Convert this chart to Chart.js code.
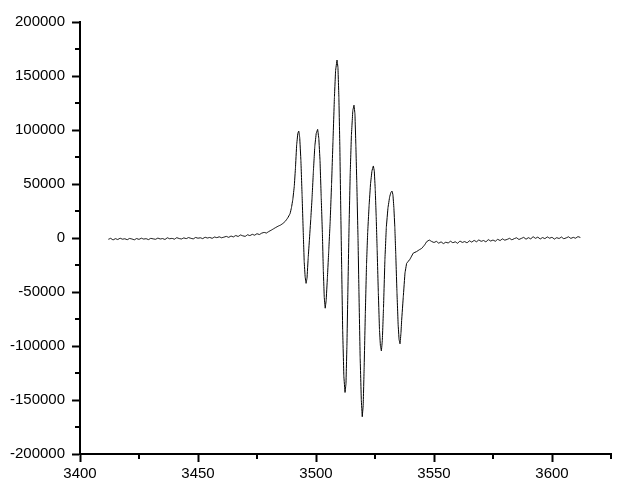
<!DOCTYPE html>
<html>
<head>
<meta charset="utf-8">
<script src="https://cdn.jsdelivr.net/npm/chart.js@4.4.1/dist/chart.umd.min.js"></script>
<style>
  body { margin: 0; background: #fff; }
  #wrap { width: 643px; height: 490px; }
</style>
</head>
<body>
<div id="wrap"><canvas id="spectrum" width="643" height="490"></canvas></div>
<script>
// magnetic field (G) and signal
var field = [
  3412, 3413, 3414, 3415, 3416, 3417, 3418, 3419, 3420, 3421,
  3422, 3423, 3424, 3425, 3426, 3427, 3428, 3429, 3430, 3431,
  3432, 3433, 3434, 3435, 3436, 3437, 3438, 3439, 3440, 3441,
  3442, 3443, 3444, 3445, 3446, 3447, 3448, 3449, 3450, 3451,
  3452, 3453, 3454, 3455, 3456, 3457, 3458, 3459, 3460, 3461,
  3462, 3463, 3464, 3465, 3466, 3467, 3468, 3469, 3470, 3471,
  3472, 3473, 3474, 3475, 3476, 3477, 3478, 3479, 3480, 3481,
  3482, 3483, 3484, 3485, 3486, 3487, 3488, 3489, 3489.6, 3490.2,
  3490.8, 3491.3, 3491.8, 3492.3, 3492.7, 3493.1, 3493.6, 3494.1, 3494.6, 3495.0,
  3495.4, 3495.8, 3496.2, 3496.7, 3497.2, 3497.8, 3498.3, 3498.9, 3499.5, 3500.1,
  3500.7, 3501.2, 3501.7, 3502.2, 3502.7, 3503.1, 3503.5, 3503.9, 3504.3, 3504.8,
  3505.4, 3506.0, 3506.6, 3507.2, 3507.8, 3508.3, 3508.9, 3509.3, 3509.7, 3510.1,
  3510.5, 3510.9, 3511.3, 3511.8, 3512.3, 3512.7, 3513.1, 3513.5, 3514.0, 3514.5,
  3515.0, 3515.6, 3516.1, 3516.5, 3516.9, 3517.3, 3517.8, 3518.2, 3518.7, 3519.2,
  3519.6, 3520.0, 3520.4, 3520.9, 3521.4, 3521.9, 3522.5, 3523.1, 3523.7, 3524.3,
  3524.7, 3525.1, 3525.5, 3525.9, 3526.4, 3526.9, 3527.3, 3527.7, 3528.1, 3528.6,
  3529.2, 3529.8, 3530.5, 3531.2, 3531.7, 3532.2, 3532.6, 3533.0, 3533.4, 3533.8,
  3534.3, 3534.8, 3535.2, 3535.6, 3536.0, 3536.3, 3537.0, 3537.7, 3538.4, 3539.8,
  3541.2, 3542.6, 3543.7, 3544.8, 3546.0, 3546.9, 3548.0, 3549.0, 3550, 3551,
  3552, 3553, 3554, 3555, 3556, 3557, 3558, 3559, 3560, 3561,
  3562, 3563, 3564, 3565, 3566, 3567, 3568, 3569, 3570, 3571,
  3572, 3573, 3574, 3575, 3576, 3577, 3578, 3579, 3580, 3581,
  3582, 3583, 3584, 3585, 3586, 3587, 3588, 3589, 3590, 3591,
  3592, 3593, 3594, 3595, 3596, 3597, 3598, 3599, 3600, 3601,
  3602, 3603, 3604, 3605, 3606, 3607, 3608, 3609, 3610, 3611,
  3612
];
var signal = [
  -1200, -300, -1800, -600, -1400, -200, -1100, -700, -1600, -400,
  -900, -1700, -500, -1300, -200, -1000, -600, -1500, -300, -800,
  -1200, -100, -900, -500, -1400, 200, -700, -300, -1100, 300,
  -500, -900, 100, -600, 400, -300, -800, 500, -200, 200,
  -600, 700, 0, 500, -300, 900, 300, 1100, 200, 800,
  1500, 600, 1800, 1000, 2300, 1400, 2800, 2000, 1500, 3000,
  2200, 3400, 2600, 4000, 3200, 4500, 5200, 4600, 6000, 7200,
  8500, 9800, 11000, 12000, 13500, 15500, 18500, 22500, 28000, 36000,
  48000, 65000, 86000, 97000, 99000, 93000, 72000, 40000, 5000, -22000,
  -36000, -42000, -37000, -18000, -2000, 18000, 36000, 62000, 85000, 97000,
  100600, 92000, 72000, 38000, 5000, -30000, -55000, -65000, -58000, -38000,
  -12000, 15000, 50000, 90000, 130000, 155000, 164800, 158000, 130000, 85000,
  25000, -30000, -85000, -128000, -143000, -135000, -100000, -50000, 10000, 60000,
  95000, 118000, 123000, 115000, 85000, 50000, 0, -50000, -110000, -150000,
  -165500, -155000, -120000, -70000, -25000, 5000, 30000, 50000, 62000, 66700,
  62000, 45000, 20000, -10000, -50000, -85000, -100000, -104600, -95000, -65000,
  -20000, 10000, 28000, 38000, 42000, 43500, 40000, 28000, 10000, -15000,
  -50000, -80000, -94000, -98000, -88000, -76000, -54000, -32500, -23500, -19700,
  -14000, -12600, -11000, -9600, -6500, -3400, -1900, -3200, -4200, -3100,
  -4800, -3600, -5200, -3900, -4600, -3000, -4400, -3500, -4900, -2800,
  -4100, -3300, -4500, -2600, -3800, -2200, -3500, -1800, -3100, -2300,
  -3600, -1500, -2800, -1900, -3000, -1200, -2400, -800, -2000, -1300,
  -300, -1700, -600, 200, -1400, -400, 600, -1100, 300, -800,
  1200, -300, 800, -900, 400, -600, 1000, -200, 700, -1000,
  300, -500, 900, -700, 100, 1100, -400, 600, -200, 1300,
  500
];

// axis ranges and steps
var xMin = 3400, xMax = 3625, xMajor = 50;
var yMin = -200000, yMax = 200000, yMajor = 50000;

Chart.defaults.font.family = '"Liberation Sans", Arial, sans-serif';
Chart.defaults.font.size = 15;
Chart.defaults.color = '#000';

var points = field.map(function (f, i) { return { x: f, y: signal[i] }; });

// small minor ticks in between the labelled ones
var minorTicks = {
  id: 'minorTicks',
  afterDraw: function (chart) {
    var ctx = chart.ctx, xs = chart.scales.x, ys = chart.scales.y;
    var area = chart.chartArea;
    ctx.save();
    ctx.strokeStyle = '#000';
    ctx.lineWidth = 2;
    ctx.beginPath();
    for (var v = xMin + xMajor / 2; v <= xMax; v += xMajor) {
      var px = Math.round(xs.getPixelForValue(v));
      ctx.moveTo(px, area.bottom);
      ctx.lineTo(px, area.bottom + 5);
    }
    for (var w = yMin + yMajor / 2; w < yMax; w += yMajor) {
      var py = Math.round(ys.getPixelForValue(w));
      ctx.moveTo(area.left, py);
      ctx.lineTo(area.left - 5, py);
    }
    ctx.stroke();
    ctx.restore();
  }
};

function plain(value) { return String(value); }

new Chart(document.getElementById('spectrum'), {
  type: 'line',
  data: {
    datasets: [{
      data: points,
      borderColor: '#000',
      borderWidth: 1,
      pointRadius: 0,
      tension: 0.01,   // tiny tension keeps chart.js off its pixel-merging fast path
      fill: false
    }]
  },
  options: {
    responsive: false,
    animation: false,
    layout: { padding: { top: 22, right: 32, left: 0, bottom: 0 } },
    plugins: { legend: { display: false }, tooltip: { enabled: false } },
    scales: {
      x: {
        type: 'linear',
        min: xMin,
        max: xMax,
        afterFit: function (s) { s.height = 36; },
        border: { color: '#000', width: 2 },
        grid: { drawOnChartArea: false, tickLength: 8, tickWidth: 2, tickColor: '#000' },
        ticks: { stepSize: xMajor, includeBounds: false, padding: 3, maxRotation: 0, callback: plain }
      },
      y: {
        min: yMin,
        max: yMax,
        afterFit: function (s) { s.width = 80; },
        border: { color: '#000', width: 2 },
        grid: { drawOnChartArea: false, tickLength: 8, tickWidth: 2, tickColor: '#000' },
        ticks: { stepSize: yMajor, padding: 7, callback: plain }
      }
    }
  },
  plugins: [minorTicks]
});
</script>
</body>
</html>
